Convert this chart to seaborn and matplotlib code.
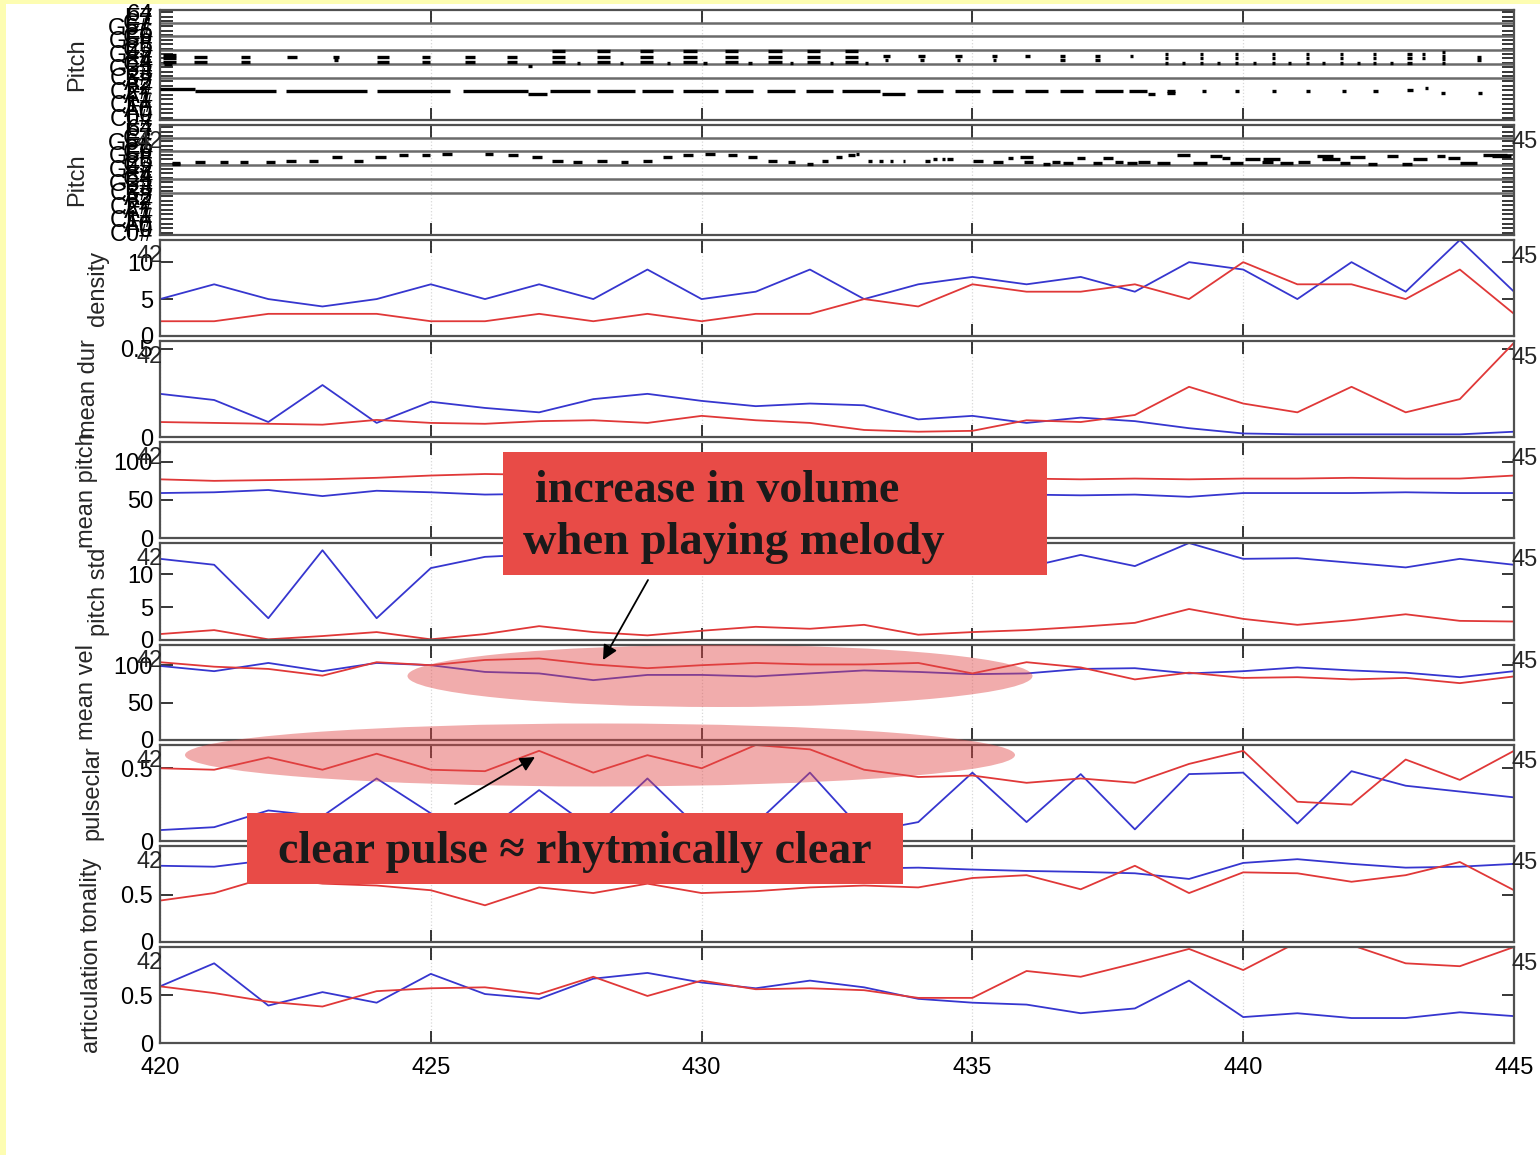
import matplotlib
matplotlib.use("Agg")
import matplotlib.pyplot as plt
from matplotlib.patches import Rectangle, Ellipse
import pandas as pd
import seaborn as sns

# ---- data ----
bars = [420, 421, 422, 423, 424, 425, 426, 427, 428, 429, 430, 431, 432,
        433, 434, 435, 436, 437, 438, 439, 440, 441, 442, 443, 444, 445]
x_ticks = [420, 425, 430, 435, 440, 445]

density_blue = [5, 7, 5, 4, 5, 7, 5, 7, 5, 9, 5, 6, 9, 5, 7, 8, 7, 8, 6, 10, 9, 5, 10, 6, 13, 6]
density_red = [2, 2, 3, 3, 3, 2, 2, 3, 2, 3, 2, 3, 3, 5, 4, 7, 6, 6, 7, 5, 10, 7, 7, 5, 9, 3]

meandur_blue = [0.245, 0.21, 0.085, 0.295, 0.08, 0.2, 0.165, 0.14, 0.215, 0.245, 0.205, 0.175, 0.19,
                0.18, 0.10, 0.12, 0.08, 0.11, 0.09, 0.05, 0.02, 0.015, 0.015, 0.015, 0.015, 0.03]
meandur_red = [0.085, 0.08, 0.075, 0.07, 0.097, 0.08, 0.075, 0.09, 0.095, 0.08, 0.12, 0.095, 0.08,
               0.04, 0.03, 0.035, 0.095, 0.085, 0.125, 0.285, 0.19, 0.14, 0.285, 0.14, 0.215, 0.535]

meanpitch_blue = [59, 60, 63, 55, 62, 60, 57, 58, 60, 59, 58, 60, 59, 58, 57, 57, 57, 56, 57, 54, 59, 59, 59, 60, 59, 59]
meanpitch_red = [77, 75, 76, 77, 79, 82, 84, 83, 82, 81, 80, 80, 79, 79, 78, 78, 78, 77, 78, 77, 78, 78, 79, 78, 78, 82]

pitchstd_blue = [12.3, 11.4, 3.3, 13.6, 3.3, 10.9, 12.6, 13.0, 12.0, 11.0, 12.5, 13.0, 12.0,
                 11.5, 12.0, 12.0, 11.0, 12.9, 11.2, 14.7, 12.3, 12.4, 11.7, 11.0, 12.3, 11.4]
pitchstd_red = [0.9, 1.5, 0.1, 0.6, 1.2, 0.1, 0.9, 2.1, 1.2, 0.7, 1.4, 2.0, 1.7,
                2.3, 0.8, 1.2, 1.5, 2.0, 2.6, 4.7, 3.2, 2.3, 3.0, 3.9, 2.9, 2.8]

meanvel_blue = [99, 92, 103, 92, 103, 100, 91, 89, 80, 87, 87, 85, 89, 93, 91, 88, 89, 95, 96, 89, 92, 97, 93, 90, 84, 92]
meanvel_red = [104, 98, 95, 86, 104, 100, 107, 109, 101, 96, 100, 103, 101, 101, 103, 89, 104, 97, 81, 90, 83, 84, 81, 83, 76, 85]

pulseclar_blue = [0.075, 0.095, 0.21, 0.17, 0.43, 0.19, 0.06, 0.35, 0.08, 0.43, 0.07, 0.12, 0.47,
                  0.06, 0.13, 0.47, 0.13, 0.46, 0.08, 0.46, 0.47, 0.12, 0.48, 0.38, 0.34, 0.30]
pulseclar_red = [0.50, 0.49, 0.575, 0.49, 0.60, 0.49, 0.48, 0.62, 0.47, 0.59, 0.50, 0.66, 0.63,
                 0.49, 0.44, 0.45, 0.40, 0.43, 0.40, 0.53, 0.62, 0.27, 0.25, 0.56, 0.42, 0.62]

tonality_blue = [0.81, 0.80, 0.87, 0.85, 0.82, 0.80, 0.83, 0.78, 0.80, 0.82, 0.79, 0.81, 0.80,
                 0.78, 0.79, 0.77, 0.755, 0.745, 0.73, 0.67, 0.84, 0.88, 0.83, 0.79, 0.80, 0.83]
tonality_red = [0.44, 0.52, 0.69, 0.62, 0.60, 0.55, 0.39, 0.58, 0.52, 0.62, 0.52, 0.54, 0.58,
                0.60, 0.58, 0.68, 0.71, 0.56, 0.81, 0.52, 0.74, 0.73, 0.64, 0.71, 0.85, 0.55]

articulation_blue = [0.59, 0.83, 0.39, 0.53, 0.42, 0.72, 0.51, 0.46, 0.67, 0.73, 0.63, 0.57, 0.65,
                     0.58, 0.46, 0.42, 0.40, 0.31, 0.36, 0.65, 0.27, 0.31, 0.26, 0.26, 0.32, 0.28]
articulation_red = [0.59, 0.52, 0.43, 0.38, 0.54, 0.57, 0.58, 0.51, 0.69, 0.49, 0.65, 0.56, 0.57,
                    0.55, 0.47, 0.47, 0.75, 0.69, 0.83, 0.98, 0.76, 1.05, 1.02, 0.83, 0.80, 1.0]

# piano roll notes: (onset, offset, pitch)
roll1_notes = [
    (420.0, 420.65, 49), (420.65, 422.14, 47), (422.33, 423.82, 47), (424.0, 425.35, 47),
    (425.6, 426.8, 47), (426.8, 427.15, 45), (427.2, 427.94, 47), (428.07, 428.77, 47),
    (428.9, 429.47, 47), (429.66, 430.3, 47), (430.43, 430.95, 47), (431.2, 431.72, 47),
    (431.93, 432.43, 47), (432.6, 433.3, 47), (433.33, 433.76, 45), (433.98, 434.46, 47),
    (434.68, 435.14, 47), (435.36, 435.75, 47), (435.97, 436.4, 47), (436.62, 437.04, 47),
    (437.26, 437.78, 47), (437.9, 438.22, 47), (438.24, 438.37, 45), (438.6, 438.74, 47),
    (438.6, 438.74, 46), (439.24, 439.32, 47), (439.85, 439.93, 47), (440.53, 440.61, 47),
    (441.16, 441.24, 47), (441.82, 441.9, 47), (442.4, 442.48, 47), (443.02, 443.14, 48),
    (443.36, 443.42, 50), (443.66, 443.72, 46), (444.33, 444.41, 46),
    (420.05, 420.30, 79), (420.05, 420.30, 76), (420.05, 420.30, 73), (420.08, 420.22, 71),
    (420.62, 420.87, 77), (420.62, 420.87, 73), (421.49, 421.67, 77), (421.49, 421.67, 73),
    (422.35, 422.53, 77), (423.20, 423.30, 77), (423.22, 423.28, 74),
    (424.00, 424.22, 77), (424.00, 424.22, 73), (424.83, 424.98, 77), (424.83, 424.98, 73),
    (425.63, 425.82, 77), (425.63, 425.82, 73), (426.40, 426.60, 77), (426.40, 426.60, 73),
    (426.80, 426.87, 69),
    (427.24, 427.48, 82), (427.24, 427.48, 77), (427.24, 427.48, 73), (427.70, 427.76, 72),
    (428.07, 428.31, 82), (428.07, 428.31, 77), (428.07, 428.31, 73), (428.49, 428.55, 72),
    (428.86, 429.10, 82), (428.86, 429.10, 77), (428.86, 429.10, 73), (429.36, 429.42, 72),
    (429.66, 429.91, 82), (429.66, 429.91, 77), (429.66, 429.91, 73), (430.03, 430.10, 72),
    (430.43, 430.67, 82), (430.43, 430.67, 77), (430.43, 430.67, 73), (430.86, 430.93, 72),
    (431.23, 431.48, 82), (431.23, 431.48, 77), (431.23, 431.48, 73), (431.63, 431.69, 72),
    (431.95, 432.19, 82), (431.95, 432.19, 77), (431.95, 432.19, 73), (432.37, 432.43, 72),
    (432.65, 432.89, 82), (432.65, 432.89, 77), (432.65, 432.89, 73), (433.02, 433.07, 72),
    (433.35, 433.48, 78), (433.38, 433.45, 74), (434.00, 434.13, 78), (434.03, 434.10, 74),
    (434.68, 434.81, 78), (434.71, 434.78, 74), (435.36, 435.45, 78), (435.38, 435.43, 74),
    (435.97, 436.06, 78), (436.62, 436.71, 78), (436.62, 436.71, 74),
    (437.26, 437.36, 78), (437.26, 437.36, 74), (437.91, 437.96, 78),
    (438.56, 438.61, 80), (438.56, 438.61, 76), (438.56, 438.61, 72), (438.87, 438.93, 72),
    (439.20, 439.25, 80), (439.20, 439.25, 76), (439.20, 439.25, 72), (439.52, 439.57, 72),
    (439.85, 439.90, 80), (439.85, 439.90, 76), (439.85, 439.90, 72), (440.18, 440.24, 72),
    (440.53, 440.58, 80), (440.53, 440.58, 76), (440.53, 440.58, 72), (440.83, 440.89, 72),
    (441.16, 441.21, 80), (441.16, 441.21, 76), (441.16, 441.21, 72), (441.45, 441.51, 72),
    (441.79, 441.84, 80), (441.79, 441.84, 76), (441.79, 441.84, 72), (442.10, 442.16, 72),
    (442.40, 442.45, 80), (442.40, 442.45, 76), (442.40, 442.45, 72), (442.71, 442.77, 72),
    (443.02, 443.12, 80), (443.02, 443.12, 76), (443.02, 443.12, 72),
    (443.30, 443.36, 80), (443.30, 443.36, 76),
    (443.67, 443.73, 81), (443.67, 443.73, 78), (443.67, 443.73, 75), (443.67, 443.73, 72),
    (444.32, 444.39, 77), (444.32, 444.39, 74),
]

roll2_notes = [
    (420.22, 420.37, 85), (420.22, 420.37, 84), (420.65, 420.83, 86), (421.11, 421.26, 86),
    (421.48, 421.62, 86), (421.96, 422.12, 86), (422.33, 422.51, 87), (422.75, 422.92, 87),
    (423.18, 423.36, 90), (423.58, 423.75, 87), (423.97, 424.17, 90), (424.41, 424.58, 92),
    (424.84, 424.99, 92), (425.21, 425.39, 93), (426.00, 426.15, 93), (426.43, 426.61, 92),
    (426.87, 427.05, 90), (427.24, 427.44, 87), (427.63, 427.79, 86), (428.07, 428.25, 87),
    (428.51, 428.64, 86), (428.92, 429.08, 87), (429.29, 429.45, 90), (429.66, 429.84, 92),
    (430.06, 430.25, 93), (430.49, 430.65, 92), (430.86, 431.02, 90), (431.23, 431.39, 87),
    (431.60, 431.72, 86), (431.95, 432.06, 84), (432.22, 432.33, 87), (432.48, 432.59, 90),
    (432.70, 432.83, 92), (432.86, 432.91, 93), (433.07, 433.14, 87), (433.28, 433.35, 87),
    (433.48, 433.53, 87), (433.72, 433.76, 87), (434.12, 434.22, 87), (434.27, 434.35, 88),
    (434.44, 434.49, 88), (434.53, 434.64, 88), (435.01, 435.20, 87), (435.38, 435.57, 86),
    (435.66, 435.75, 89), (435.88, 436.12, 90), (435.95, 436.12, 86), (436.30, 436.43, 84),
    (436.47, 436.62, 86), (436.67, 436.86, 85), (436.93, 437.08, 89), (437.23, 437.39, 85),
    (437.41, 437.60, 89), (437.63, 437.78, 86), (437.85, 438.04, 85), (438.06, 438.28, 86),
    (438.41, 438.65, 85), (438.78, 439.02, 92), (439.07, 439.33, 85), (439.39, 439.61, 91),
    (439.61, 439.76, 89), (439.76, 440.00, 85), (440.03, 440.31, 88), (440.35, 440.55, 86),
    (440.37, 440.68, 88), (440.68, 440.92, 85), (441.01, 441.23, 86), (441.36, 441.66, 91),
    (441.45, 441.79, 88), (441.79, 441.97, 85), (441.97, 442.25, 90), (442.30, 442.47, 84),
    (442.65, 442.86, 91), (442.93, 443.12, 84), (443.14, 443.39, 88), (443.58, 443.73, 91),
    (443.78, 444.00, 89), (444.00, 444.32, 85), (444.43, 444.87, 92), (444.60, 444.95, 91),
]

pitch_grid = [59, 71, 83, 95, 107]
pitch_ticks = [24, 28, 32, 36, 40, 44, 48, 52, 56, 60, 64, 68,
               72, 76, 80, 84, 88, 92, 96, 100, 104, 108, 112, 116]
pitch_tick_labels = ["C0#", "F0", "A0", "C1#", "F1", "A1", "C2#", "F2", "A2", "C3#", "E3", "G3#",
                     "C4", "E4", "G4#", "C5", "E5", "G5#", "C6", "E6", "G6#", "C7", "E7", "64"]

# name, blue, red, ylim, yticks, yticklabels, label x (axes frac)
line_panels = [
    ("density", density_blue, density_red, (0, 13), [0, 5, 10], ["0", "5", "10"], -0.038),
    ("mean dur", meandur_blue, meandur_red, (0, 0.545), [0, 0.5], ["0", "0.5"], -0.044),
    ("mean pitch", meanpitch_blue, meanpitch_red, (0, 126), [0, 50, 100], ["0", "50", "100"], -0.046),
    ("pitch std", pitchstd_blue, pitchstd_red, (0, 14.7), [0, 5, 10], ["0", "5", "10"], -0.037),
    ("mean vel", meanvel_blue, meanvel_red, (0, 127), [0, 50, 100], ["0", "50", "100"], -0.046),
    ("pulseclar", pulseclar_blue, pulseclar_red, (0, 0.66), [0, 0.5], ["0", "0.5"], -0.042),
    ("tonality", tonality_blue, tonality_red, (0, 1.02), [0, 0.5], ["0", "0.5"], -0.043),
    ("articulation", articulation_blue, articulation_red, (0, 1.0), [0, 0.5], ["0", "0.5"], -0.043),
]
palette = {"blue": "#3636cf", "red": "#e03838"}

# ---- layout ----
sns.set_style("ticks")
plt.rcParams["font.family"] = ["Liberation Sans", "DejaVu Sans"]
plt.rcParams["font.size"] = 17

W, H = 1540.0, 1155.0
X0, X1 = 160, 1514
panel_px = [(10, 120), (125, 235), (240, 336), (341, 437), (442, 538),
            (543, 640), (645, 740), (745, 841), (846, 942), (947, 1043)]

fig = plt.figure(figsize=(15.4, 11.55), dpi=100)
fig.patch.set_facecolor("white")


def px_rect(top, bottom):
    return [X0 / W, 1 - bottom / H, (X1 - X0) / W, (bottom - top) / H]


axes = [fig.add_axes(px_rect(t, b)) for t, b in panel_px]


def style(ax, last):
    ax.set_xlim(420, 445)
    ax.set_xticks(x_ticks)
    ax.grid(axis="x", color="#d8d8d8", linestyle=":", linewidth=0.9)
    ax.tick_params(direction="in", length=9, width=1.1, top=True, right=True,
                   labelsize=17, pad=5, colors="black")
    ax.tick_params(axis="x", pad=10)
    if not last:
        ax.set_xticklabels([])
    for s in ax.spines.values():
        s.set_color("#505050")
        s.set_linewidth(1.6)
    ax.set_xlabel("")


# piano roll panels
for i, notes in enumerate([roll1_notes, roll2_notes]):
    ax = axes[i]
    for g in pitch_grid:
        ax.axhline(g, color="#6a6a6a", linewidth=1.8, zorder=1)
    on = [n[0] for n in notes]
    off = [n[1] for n in notes]
    pit = [n[2] for n in notes]
    ax.hlines(pit, on, off, colors="black", linewidth=2.4, zorder=3)
    ax.set_ylim(22, 118)
    ax.set_yticks(pitch_ticks)
    ax.set_yticklabels(pitch_tick_labels)
    style(ax, False)
    ax.set_ylabel("Pitch", fontsize=17)
    ax.yaxis.set_label_coords(-0.053, 0.5)
    if i == 1:
        ax.text(0.002, 1 - 17 / 110, "42", transform=ax.transAxes, ha="right", va="center", fontsize=17)
        ax.text(0.9985, 1 - 17 / 110, "45", transform=ax.transAxes, ha="left", va="center", fontsize=17)

# feature panels
for k, (name, blue, red, ylim, yt, ytl, labx) in enumerate(line_panels):
    ax = axes[k + 2]
    df = pd.DataFrame({
        "bar": bars + bars,
        "value": blue + red,
        "part": ["blue"] * len(bars) + ["red"] * len(bars),
    })
    sns.lineplot(data=df, x="bar", y="value", hue="part", palette=palette,
                 linewidth=1.3, legend=False, errorbar=None, ax=ax)
    ax.set_ylim(*ylim)
    ax.set_yticks(yt)
    ax.set_yticklabels(ytl)
    style(ax, k == len(line_panels) - 1)
    ax.set_ylabel(name, fontsize=17)
    ax.yaxis.set_label_coords(labx, 0.5)
    h = panel_px[k + 2][1] - panel_px[k + 2][0]
    ax.text(0.002, 1 - 16 / h, "42", transform=ax.transAxes, ha="right", va="center", fontsize=17)
    ax.text(0.9985, 1 - 17 / h, "45", transform=ax.transAxes, ha="left", va="center", fontsize=17)

# ---- annotation overlay (figure pixel coordinates, origin top-left) ----
ov = fig.add_axes([0, 0, 1, 1], zorder=10)
ov.set_xlim(0, W)
ov.set_ylim(H, 0)
ov.axis("off")
ov.patch.set_alpha(0)

ov.add_patch(Rectangle((0, 0), 6, H, color="#fdfdb2", lw=0))
ov.add_patch(Rectangle((0, 0), W, 4, color="#fdfdb2", lw=0))

ov.add_patch(Ellipse((720, 676), 625, 62, facecolor="#e04848", alpha=0.45, lw=0))
ov.add_patch(Ellipse((600, 755), 830, 63, facecolor="#e04848", alpha=0.45, lw=0))

box_color = "#e84b47"
serif = ["Liberation Serif", "DejaVu Serif"]
ov.add_patch(Rectangle((503, 452), 544, 123, color=box_color, lw=0))
ov.add_patch(Rectangle((247, 813), 656, 71, color=box_color, lw=0))
ov.text(535, 502, "increase in volume", ha="left", va="baseline", fontsize=33,
        fontweight="bold", family=serif, color="#1a1a1a")
ov.text(523, 554, "when playing melody", ha="left", va="baseline", fontsize=33.5,
        fontweight="bold", family=serif, color="#1a1a1a")
ov.text(278, 863, "clear pulse \u2248 rhytmically clear", ha="left", va="baseline", fontsize=33,
        fontweight="bold", family=serif, color="#1a1a1a")

arrow = dict(arrowstyle="-|>", color="black", lw=1.3, mutation_scale=22, shrinkA=0, shrinkB=0)
ov.annotate("", xy=(603, 660), xytext=(648, 580), arrowprops=arrow)
ov.annotate("", xy=(535, 757), xytext=(455, 804), arrowprops=arrow)

fig.savefig("out.png", dpi=100, facecolor="white")
